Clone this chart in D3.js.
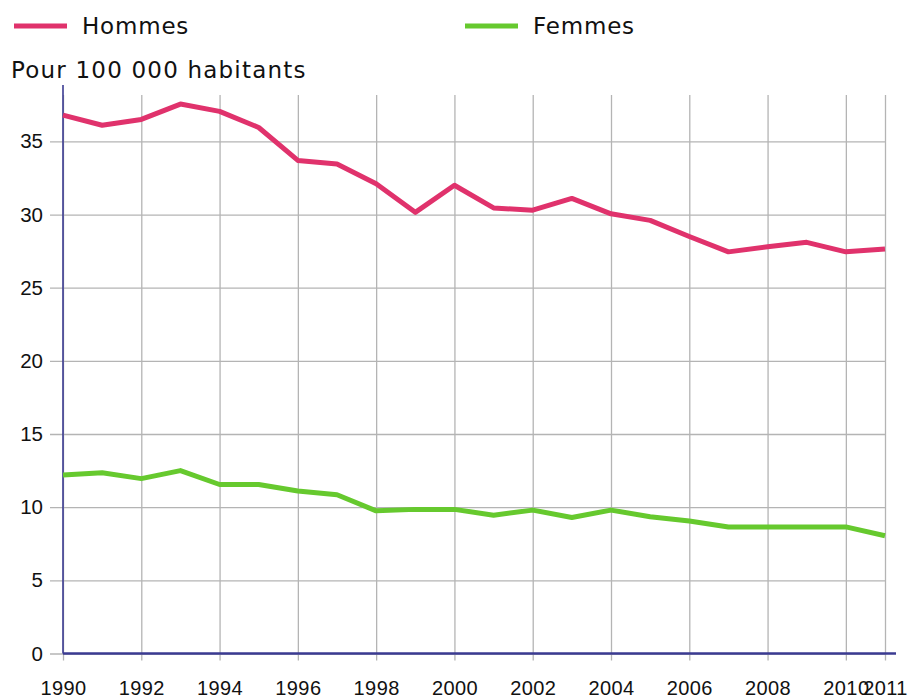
<!DOCTYPE html>
<html>
<head>
<meta charset="utf-8">
<script src="https://cdn.jsdelivr.net/npm/d3@7"></script>
<style>
  body { margin: 0; background: #fff; }
  svg { font-family: "DejaVu Sans", Verdana, sans-serif; }
  .grille line { stroke: #b4b4b4; stroke-width: 1.3; }
  .grille path { display: none; }
  .ejes text { fill: #111; }
</style>
</head>
<body>
<div id="graf"></div>
<script>
// Taux pour 100 000 habitants, 1990-2011

annees  = d3.range(1990, 2012)
hommes  = [36.8, 36.1, 36.5, 37.55, 37.05, 35.95, 33.7, 33.45, 32.1, 30.15, 32.0,
           30.45, 30.3, 31.1, 30.05, 29.6, 28.5, 27.45, 27.8, 28.1, 27.45, 27.65]
femmes  = [12.2, 12.35, 11.95, 12.5, 11.55, 11.55, 11.1, 10.85, 9.75, 9.85, 9.85,
           9.45, 9.8, 9.3, 9.8, 9.35, 9.05, 8.65, 8.65, 8.65, 8.65, 8.05]
series  = ['Hommes', 'Femmes']
ticksX  = [1990, 1992, 1994, 1996, 1998, 2000, 2002, 2004, 2006, 2008, 2010, 2011]
ticksY  = [0, 5, 10, 15, 20, 25, 30, 35]

ancho_total = 916
alto_total  = 697
margins = { top: 95, left: 63, right: 31, bottom: 43.5 }
ancho = ancho_total - margins.left - margins.right
alto  = alto_total - margins.top - margins.bottom

svg = d3.select('#graf').append('svg')
        .attr('width', ancho_total)
        .attr('height', alto_total)

g = svg.append('g')
       .attr('transform', `translate(${ margins.left }, ${ margins.top })`)

x = d3.scaleLinear().domain([1990, 2011]).range([0, ancho])
y = d3.scaleLinear().domain([0, 38.17]).range([alto, 0])
color = d3.scaleOrdinal().domain(series).range(['#e0326c', '#66c92e'])

// grille verticale + étiquettes des années
xAxis = g.append('g')
         .attr('class', 'grille ejes')
         .attr('transform', `translate(0, ${ alto })`)
         .call(d3.axisBottom(x).tickValues(ticksX).tickFormat(d3.format('d'))
                 .tickSize(7).tickPadding(20))
xAxis.selectAll('.tick line').attr('y1', -alto)
xAxis.selectAll('text').attr('font-size', 20).attr('letter-spacing', 0.4)

// grille horizontale + valeurs
yAxis = g.append('g')
         .attr('class', 'grille ejes')
         .call(d3.axisLeft(y).tickValues(ticksY).tickSize(13).tickPadding(7))
yAxis.selectAll('.tick line').attr('x2', ancho)
yAxis.selectAll('.tick line').attr('x1', -13)
yAxis.selectAll('text').attr('font-size', 20.5)

// axes bleus
g.append('line')
 .attr('x1', 0).attr('x2', 0).attr('y1', -10).attr('y2', alto)
 .attr('stroke', '#3b3b92').attr('stroke-width', 1.6)
g.append('line')
 .attr('x1', 0).attr('x2', ancho + 11).attr('y1', alto).attr('y2', alto)
 .attr('stroke', '#3b3b92').attr('stroke-width', 2.4)

// courbes
lineaGen = d3.line()
             .x((d, i) => x(annees[i]))
             .y(d => y(d))

g.selectAll('.serie')
 .data([hommes, femmes])
 .join('path')
 .attr('class', 'serie')
 .attr('fill', 'none')
 .attr('stroke-width', 5)
 .attr('stroke-linejoin', 'round')
 .attr('stroke', (d, i) => color(series[i]))
 .attr('d', d => lineaGen(d))

// légende
leyenda = svg.append('g')
leyenda.selectAll('line')
       .data(series)
       .join('line')
       .attr('x1', (d, i) => 14 + i * 451)
       .attr('x2', (d, i) => 67 + i * 451)
       .attr('y1', 26).attr('y2', 26)
       .attr('stroke', d => color(d))
       .attr('stroke-width', 5)
leyenda.selectAll('text')
       .data(series)
       .join('text')
       .attr('x', (d, i) => 82 + i * 451)
       .attr('y', 34)
       .attr('font-size', 23)
       .attr('letter-spacing', 0.8)
       .attr('fill', '#111')
       .text(d => d)

svg.append('text')
   .attr('x', 11).attr('y', 78)
   .attr('font-size', 23)
   .attr('letter-spacing', 1.2)
   .attr('fill', '#111')
   .text('Pour 100 000 habitants')
</script>
</body>
</html>
